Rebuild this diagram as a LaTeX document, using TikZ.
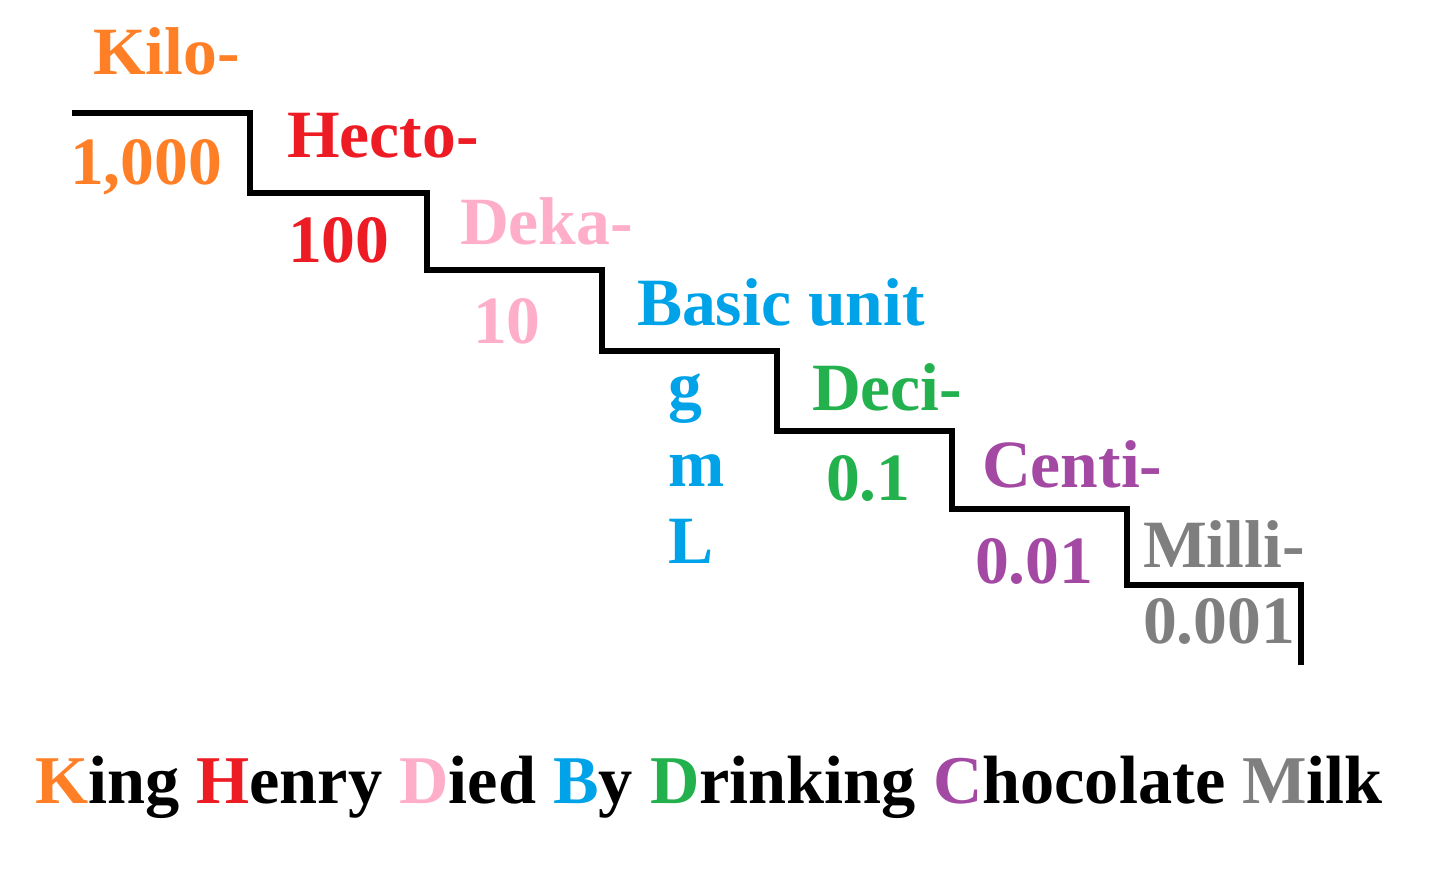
\documentclass[tikz,border=0pt]{standalone}
\usepackage{fontspec}
\setmainfont{Liberation Serif}
\usetikzlibrary{positioning}
\definecolor{KiloOrange}{HTML}{FF7F27}
\definecolor{HectoRed}{HTML}{ED1C24}
\definecolor{DekaPink}{HTML}{FFAEC9}
\definecolor{BasicBlue}{HTML}{00A2E8}
\definecolor{DeciGreen}{HTML}{22B14C}
\definecolor{CentiPurple}{HTML}{A349A4}
\definecolor{MilliGray}{HTML}{7F7F7F}
\tikzset{
  lbl/.style={anchor=base west, inner sep=0pt, outer sep=0pt,
    font=\fontsize{38.5}{42}\selectfont\bfseries},
  stair/.style={line width=3.3pt, line join=miter}
}

\begin{document}
\begin{tikzpicture}[x=0.02cm, y=-0.02cm]
  \useasboundingbox (0,0) rectangle (1440,895);

  % corners of the stairs
  \coordinate (S0) at (72,113);
  \coordinate (S1) at (250,113);
  \coordinate (S2) at (427,193);
  \coordinate (S3) at (602,270);
  \coordinate (S4) at (777,351);
  \coordinate (S5) at (952,431);
  \coordinate (S6) at (1127,509);
  \coordinate (S7) at (1301,585);
  \coordinate (S8) at (1301,665);

  \draw[stair] (S0) -- (S1) |- (S2) |- (S3) |- (S4) |- (S5) |- (S6) |- (S7) -- (S8);

  % prefixes and factors
  \node[lbl, KiloOrange] (kilo) at (93,75) {Kilo-};
  \node[lbl, KiloOrange] (kiloval) at (70,185) {1,000};
  \node[lbl, HectoRed] (hecto) at (287,158) {Hecto-};
  \node[lbl, HectoRed] (hectoval) at (288,262) {100};
  \node[lbl, DekaPink] (deka) at (460,245) {Deka-};
  \node[lbl, DekaPink] (dekaval) at (473,343) {10};
  \node[lbl, BasicBlue] (basic) at (637,325) {Basic unit};
  \node[lbl, BasicBlue] (gram) at (668,408) {g};
  \node[lbl, BasicBlue] (metre) at (668,486) {m};
  \node[lbl, BasicBlue] (litre) at (668,563) {L};
  \node[lbl, DeciGreen] (deci) at (812,410) {Deci-};
  \node[lbl, DeciGreen] (decival) at (826,500) {0.1};
  \node[lbl, CentiPurple] (centi) at (982,487) {Centi-};
  \node[lbl, CentiPurple] (centival) at (975,583) {0.01};
  \node[lbl, MilliGray] (milli) at (1143,567) {Milli-};
  \node[lbl, MilliGray] (millival) at (1143,643) {0.001};

  % mnemonic
  \node[lbl, font=\fontsize{38.9}{42}\selectfont\bfseries] (mnemonic) at (35,803)
    {\textcolor{KiloOrange}{K}ing
    \textcolor{HectoRed}{H}enry \textcolor{DekaPink}{D}ied
    \textcolor{BasicBlue}{B}y \textcolor{DeciGreen}{D}rinking
    \textcolor{CentiPurple}{C}hocolate \textcolor{MilliGray}{M}ilk};
\end{tikzpicture}
\end{document}
